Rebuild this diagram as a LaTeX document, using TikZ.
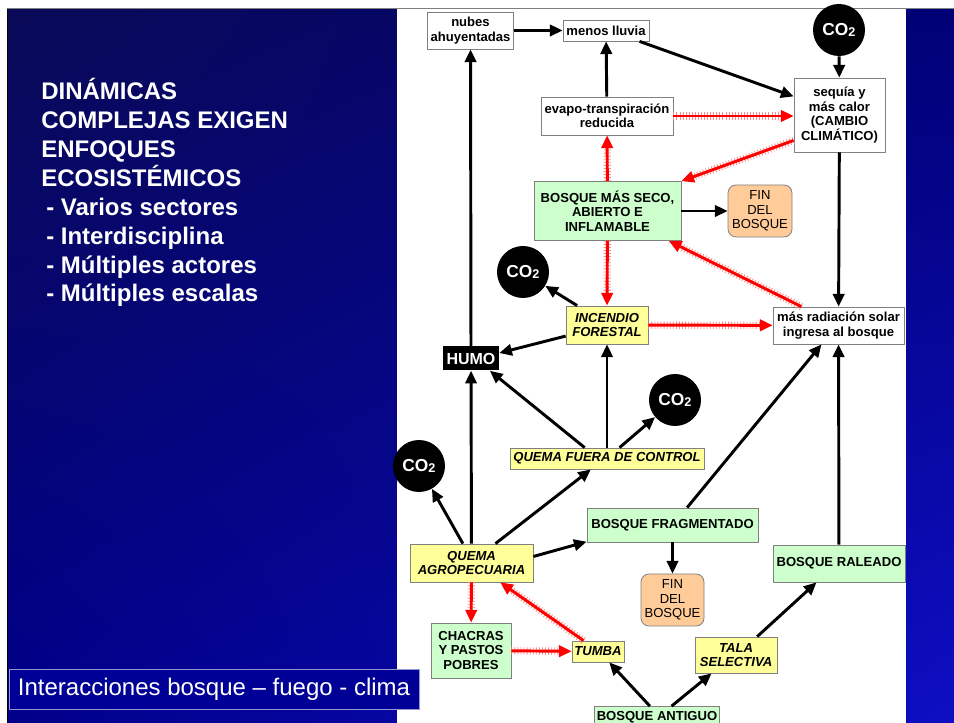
\documentclass[tikz,border=0pt]{standalone}
\usepackage{fontspec}
\setmainfont{Liberation Sans}
\usetikzlibrary{arrows.meta,shadings}
\definecolor{boxgreen}{HTML}{CCFFCC}
\definecolor{boxyellow}{HTML}{FFFF99}
\definecolor{boxorange}{HTML}{FFCC99}
\definecolor{boxline}{HTML}{808080}
\definecolor{navytl}{RGB}{10,10,88}
\definecolor{navybl}{RGB}{0,0,138}
\definecolor{navytr}{RGB}{0,0,118}
\definecolor{navybr}{RGB}{14,14,196}
\definecolor{capblue}{RGB}{0,0,150}
\definecolor{caplav}{RGB}{150,150,210}
\newcommand{\cotwo}{CO{\fontsize{9.5}{9.5}\selectfont\raisebox{-1pt}{2}}}

\begin{document}
\begin{tikzpicture}[x=0.75pt, y=-0.75pt,
      every node/.append style={align=center, inner sep=1.5pt},
      box/.style={draw=boxline, line width=0.6pt, font=\fontsize{9.8}{10.8}\selectfont\bfseries},
      whitebox/.style={box, fill=white},
      greenbox/.style={box, fill=boxgreen},
      yellowbox/.style={box, fill=boxyellow, font=\fontsize{9.8}{10.8}\selectfont\bfseries\itshape},
      finbox/.style={box, fill=boxorange, rounded corners=6pt, font=\fontsize{9.8}{10.8}\selectfont},
      co/.style={circle, fill=black, text=white, minimum size=39pt, inner sep=0pt, font=\fontsize{13}{13}\selectfont\bfseries},
      blk/.style={draw=black, line width=2.2pt, -{Triangle[length=9.5pt,width=8.5pt]}},
      redarr/.style={draw=red, line width=2.2pt, -{Triangle[length=9.5pt,width=8.5pt]},
        preaction={draw=red!45, -, line width=5.5pt, dash pattern=on 0.6pt off 1.7pt, shorten >=8pt}}]
      \tikzstyle{humobox} = [fill=black, text=white, inner sep=2pt, font=\fontsize{12}{12}\selectfont\bfseries]
      \useasboundingbox (0,0) rectangle (954,723);
      \clip (0,0) rectangle (954,723);
      \fill[white] (0,0) rectangle (954,723);
      \shade[upper left=navytl, lower left=navybl, upper right=navytr, lower right=navybr] (8,9) rectangle (954,723);
      \draw[black, line width=1pt] (7.5,8) -- (7.5,723);
      \draw[gray, line width=1pt] (7,8.5) -- (954,8.5);
      \fill[white] (397,9) rectangle (906,723);

      \node (titulo) [anchor=base west, align=left, text=white, inner sep=0pt,
        font=\fontsize{18}{21.7}\selectfont\bfseries] at (41,302)
        {DINÁMICAS\\COMPLEJAS EXIGEN\\ENFOQUES\\ECOSISTÉMICOS\\
         \hspace*{3.75pt}- Varios sectores\\\hspace*{3.75pt}- Interdisciplina\\
         \hspace*{3.75pt}- Múltiples actores\\\hspace*{3.75pt}- Múltiples escalas};
      \node (pie) [fill=capblue, draw=caplav, line width=0.75pt, text=white, minimum width=307.5pt,
        minimum height=30pt, font=\fontsize{18}{21}\selectfont] at (214,689)
        {Interacciones bosque -- fuego - clima};

      \node (nubes) [whitebox, minimum width=65pt, minimum height=27.75pt] at (470.5,30.5) {nubes\\ahuyentadas};
      \node (lluvia) [whitebox, minimum width=64.5pt, minimum height=15.75pt] at (606,30.5) {menos lluvia};
      \node (coA) [co] at (839,30) {\cotwo};
      \node (sequia) [whitebox, minimum width=68.25pt, minimum height=55.5pt] at (839.5,115) {sequía y\\más calor\\(CAMBIO\\CLIMÁTICO)};
      \node (evapo) [whitebox, minimum width=99pt, minimum height=28.5pt] at (607,116) {evapo-transpiración\\reducida};
      \node (seco) [greenbox, minimum width=110.25pt, minimum height=44.25pt] at (607.5,211) {BOSQUE MÁS SECO,\\ABIERTO E\\INFLAMABLE};
      \node (finA) [finbox, minimum width=48pt, minimum height=39pt] at (760,211) {FIN\\DEL\\BOSQUE};
      \node (coB) [co] at (523,272) {\cotwo};
      \node (incendio) [yellowbox, minimum width=61.5pt, minimum height=28.5pt] at (607,325) {INCENDIO\\FORESTAL};
      \node (radiacion) [whitebox, minimum width=98.25pt, minimum height=27.75pt] at (838.5,325.5) {más radiación solar\\ingresa al bosque};
      \node (humo) [humobox, minimum width=42pt, minimum height=18pt] at (471,358.5) {HUMO};
      \node (coC) [co] at (675,400) {\cotwo};
      \node (fuera) [yellowbox, minimum width=145.5pt, minimum height=15.75pt] at (607,458.5) {QUEMA FUERA DE CONTROL};
      \node (coD) [co] at (419,466) {\cotwo};
      \node (fragmentado) [greenbox, minimum width=128.25pt, minimum height=25.5pt] at (672.5,525) {BOSQUE FRAGMENTADO};
      \node (raleado) [greenbox, minimum width=99pt, minimum height=27.75pt] at (839,563.5) {BOSQUE RALEADO};
      \node (agro) [yellowbox, minimum width=92.25pt, minimum height=28.5pt] at (471.5,563) {QUEMA\\AGROPECUARIA};
      \node (finB) [finbox, minimum width=47.25pt, minimum height=39pt] at (672.5,600) {FIN\\DEL\\BOSQUE};
      \node (chacras) [greenbox, minimum width=60pt, minimum height=41.25pt] at (471,650.5) {CHACRAS\\Y PASTOS\\POBRES};
      \node (tumba) [yellowbox, minimum width=39pt, minimum height=15.75pt] at (598,651.5) {TUMBA};
      \node (tala) [yellowbox, minimum width=61.5pt, minimum height=27pt] at (736,655) {TALA\\SELECTIVA};
      \node (antiguo) [greenbox, minimum width=93pt, minimum height=16.5pt] at (657,717.5) {BOSQUE ANTIGUO};

      \draw [blk] (nubes) -- (lluvia);
      \draw [blk] (lluvia.-18) -- (sequia.158);
      \draw [blk] (coA) -- (sequia);
      \draw [blk] (evapo) -- (lluvia);
      \draw [blk] (sequia) -- (radiacion);
      \draw [blk] (seco) -- (finA);
      \draw [blk] (incendio.147) -- (coB);
      \draw [blk] (incendio.195) -- (humo.11);
      \draw [blk] (humo) -- (nubes);
      \draw [blk] (fuera.154) -- (humo.-33);
      \draw [blk] (fuera) -- (incendio);
      \draw [blk] (fuera.41) -- (coC);
      \draw [blk] (agro.114) -- (coD);
      \draw [blk] (agro) -- (humo);
      \draw [blk] (agro.39) -- (fuera.214);
      \draw [blk] (agro.6) -- (fragmentado.191);
      \draw [blk] (fragmentado.50) -- (radiacion.228);
      \draw [blk] (fragmentado) -- (finB);
      \draw [blk] (raleado) -- (radiacion);
      \draw [blk] (antiguo.122) -- (tumba.-44);
      \draw [blk] (antiguo.38) -- (tala.217);
      \draw [blk] (tala.41) -- (raleado.220);

      \draw [redarr] (evapo.east) -- (evapo.east -| sequia.west);
      \draw [redarr] (sequia.209) -- (seco.north east);
      \draw [redarr] (seco) -- (evapo);
      \draw [redarr] (seco) -- (incendio);
      \draw [redarr] (incendio) -- (radiacion);
      \draw [redarr] (radiacion.153) -- (seco.-26);
      \draw [redarr] (agro) -- (chacras);
      \draw [redarr] (chacras) -- (tumba);
      \draw [redarr] (tumba.143) -- (agro.-34);
\end{tikzpicture}
\end{document}
